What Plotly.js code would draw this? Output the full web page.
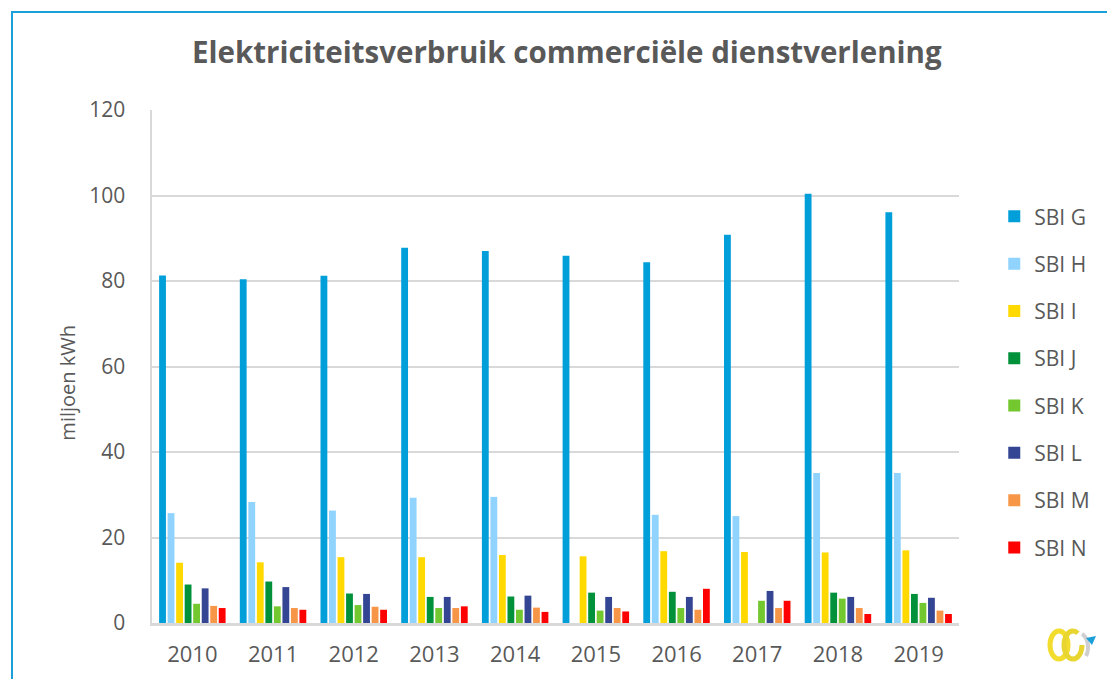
<!DOCTYPE html>
<html>
<head>
<meta charset="utf-8">
<script src="https://cdn.plot.ly/plotly-3.0.1.min.js"></script>
<style>
  html, body { margin: 0; padding: 0; background: #fff; }
  #chart { width: 1107px; height: 679px; }
  #frame { position: absolute; left: 11px; top: 11px; width: 1200px; height: 700px;
           border-left: 2px solid #1a9fd9; border-top: 2px solid #1a9fd9; pointer-events: none; }
  #logo { position: absolute; left: 1042px; top: 618px; pointer-events: none; }
</style>
</head>
<body>
<div id="chart"></div>
<div id="frame"></div>
<svg id="logo" width="60" height="52" viewBox="0 0 60 52">
  <ellipse cx="17" cy="27" rx="9" ry="14" fill="none" stroke="#F2DC2E" stroke-width="5"/>
  <ellipse cx="31" cy="27" rx="9" ry="14" fill="none" stroke="#E8D530" stroke-width="5" stroke-dasharray="60 30"/>
  <path d="M40 16 A9 14 0 0 1 44 38" fill="none" stroke="#cfcfcf" stroke-width="4"/>
  <polygon points="44,20 54,18 50,27" fill="#1a9fd9"/>
</svg>
<script>
const years = ['2010','2011','2012','2013','2014','2015','2016','2017','2018','2019'];
const seriesNames = ['SBI G','SBI H','SBI I','SBI J','SBI K','SBI L','SBI M','SBI N'];
const sbiG = [81.3, 80.4, 81.2, 87.8, 87.0, 85.9, 84.4, 90.8, 100.4, 96.1];
const sbiH = [25.7, 28.3, 26.3, 29.3, 29.5, null, 25.3, 25.0, 35.1, 35.1];
const sbiI = [14.1, 14.2, 15.4, 15.4, 15.9, 15.6, 16.8, 16.6, 16.5, 17.0];
const sbiJ = [9.0, 9.7, 6.9, 6.1, 6.2, 7.1, 7.3, null, 7.1, 6.8];
const sbiK = [4.5, 3.9, 4.2, 3.5, 3.1, 2.9, 3.5, 5.2, 5.7, 4.7];
const sbiL = [8.1, 8.4, 6.8, 6.1, 6.4, 6.1, 6.1, 7.5, 6.1, 5.9];
const sbiM = [4.0, 3.5, 3.8, 3.5, 3.6, 3.5, 3.1, 3.5, 3.5, 2.9];
const sbiN = [3.5, 3.1, 3.1, 3.9, 2.6, 2.7, 8.0, 5.2, 2.1, 2.1];
const colors = ['#009FDA', '#8FD3FE', '#FFD900', '#00913A', '#72C82E', '#334593', '#F79646', '#FF0000'];

const allValues = [sbiG, sbiH, sbiI, sbiJ, sbiK, sbiL, sbiM, sbiN];
const textColor = '#595959';
const fontFam = '"Open Sans", "Noto Sans", sans-serif';

const traces = allValues.map((vals, i) => ({
  type: 'bar',
  name: seriesNames[i],
  x: years,
  y: vals,
  legendgroup: 'g' + i,
  marker: { color: colors[i], line: { width: 0 } },
  hoverinfo: 'x+y+name'
}));

const layout = {
  width: 1107, height: 679,
  margin: { l: 152, r: 142, t: 110, b: 56, pad: 0 },
  paper_bgcolor: '#ffffff', plot_bgcolor: '#ffffff',
  barmode: 'group', bargap: 0.155, bargroupgap: 0.2,
  font: { family: fontFam, color: textColor, size: 21 },
  title: {
    text: '<b>Elektriciteitsverbruik commerciële dienstverlening</b>',
    font: { family: fontFam, size: 29.5, color: textColor },
    x: 0.512, xref: 'container', xanchor: 'center',
    y: 0.923, yref: 'container', yanchor: 'middle'
  },
  xaxis: {
    type: 'category',
    showline: true, linecolor: '#D9D9D9', linewidth: 2.5,
    showgrid: false, ticks: '', ticklen: 0, ticklabelstandoff: 10,
    tickfont: { size: 22, color: textColor, family: fontFam }
  },
  yaxis: {
    range: [0, 120], dtick: 20, tick0: 0,
    showline: true, linecolor: '#D9D9D9', linewidth: 2.5,
    showgrid: true, gridcolor: '#D9D9D9', gridwidth: 2,
    zeroline: false, ticks: '', ticklabelstandoff: 20,
    tickfont: { size: 21, color: textColor, family: fontFam }
  },
  annotations: [{
    text: 'miljoen kWh', textangle: -90,
    xref: 'paper', yref: 'paper',
    x: (66 - 152) / 813, y: (623 - 383) / 513,
    xanchor: 'center', yanchor: 'middle', showarrow: false,
    font: { size: 20, color: textColor, family: fontFam }
  }],
  legend: {
    x: 1.0437, xanchor: 'left', y: 0.832, yanchor: 'top',
    traceorder: 'grouped', tracegroupgap: 17,
    font: { size: 21, color: textColor, family: fontFam },
    bgcolor: 'rgba(0,0,0,0)', itemwidth: 30
  },
  showlegend: true
};

Plotly.newPlot('chart', traces, layout, { displayModeBar: false, staticPlot: true });
</script>
</body>
</html>
